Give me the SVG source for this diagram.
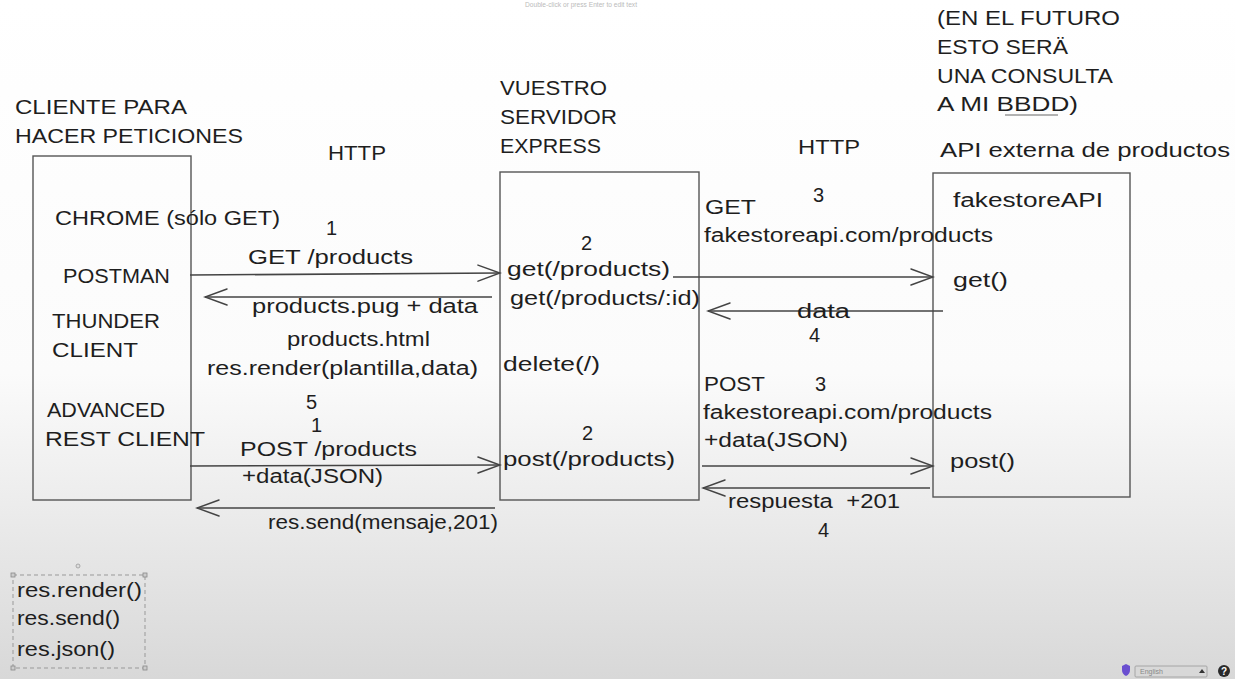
<svg xmlns="http://www.w3.org/2000/svg" width="1235" height="679" viewBox="0 0 1235 679">
<defs>
<linearGradient id="bg" x1="0" y1="0" x2="0" y2="1">
<stop offset="0" stop-color="#ffffff"/>
<stop offset="0.55" stop-color="#fbfbfb"/>
<stop offset="1" stop-color="#d8d8d8"/>
</linearGradient>
<marker id="arr" viewBox="-24 -10 26 20" refX="0" refY="0" markerWidth="26" markerHeight="20" markerUnits="userSpaceOnUse" orient="auto">
<path d="M-22,-8 L0,0 L-22,8" fill="none" stroke="#444" stroke-width="1.5" stroke-linecap="round"/>
</marker>
<style>
.t{font-family:"Liberation Sans",Arial,sans-serif;font-size:20px;fill:#1e1e1e}
.box{fill:none;stroke:#555;stroke-width:1.4}
.con{fill:none;stroke:#444;stroke-width:1.6;marker-end:url(#arr)}
.ui{font-family:"Liberation Sans",Arial,sans-serif}
</style>
</defs>
<rect x="0" y="0" width="1235" height="679" fill="url(#bg)"/>
<text class="ui" x="525" y="7" font-size="7" fill="#bbb" textLength="112" lengthAdjust="spacingAndGlyphs">Double-click or press Enter to edit text</text>

<g id="client">
<text class="t" x="15" y="114" textLength="172" lengthAdjust="spacingAndGlyphs">CLIENTE PARA</text>
<text class="t" x="15" y="143" textLength="228" lengthAdjust="spacingAndGlyphs">HACER PETICIONES</text>
<rect class="box" x="33" y="156" width="158" height="344"/>
<text class="t" x="55" y="225" textLength="225" lengthAdjust="spacingAndGlyphs">CHROME (sólo GET)</text>
<text class="t" x="63" y="283" textLength="107" lengthAdjust="spacingAndGlyphs">POSTMAN</text>
<text class="t" x="52" y="328" textLength="108" lengthAdjust="spacingAndGlyphs">THUNDER</text>
<text class="t" x="52" y="357" textLength="86" lengthAdjust="spacingAndGlyphs">CLIENT</text>
<text class="t" x="47" y="417" textLength="118" lengthAdjust="spacingAndGlyphs">ADVANCED</text>
<text class="t" x="45" y="446" textLength="160" lengthAdjust="spacingAndGlyphs">REST CLIENT</text>
</g>

<g id="server">
<text class="t" x="500" y="95" textLength="107" lengthAdjust="spacingAndGlyphs">VUESTRO</text>
<text class="t" x="500" y="124" textLength="117" lengthAdjust="spacingAndGlyphs">SERVIDOR</text>
<text class="t" x="500" y="153" textLength="101" lengthAdjust="spacingAndGlyphs">EXPRESS</text>
<rect class="box" x="500" y="172" width="199" height="328"/>
<text class="t" x="581" y="250">2</text>
<text class="t" x="507" y="276" textLength="163" lengthAdjust="spacingAndGlyphs">get(/products)</text>
<text class="t" x="510" y="305" textLength="190" lengthAdjust="spacingAndGlyphs">get(/products/:id)</text>
<text class="t" x="503" y="371" textLength="97" lengthAdjust="spacingAndGlyphs">delete(/)</text>
<text class="t" x="582" y="440">2</text>
<text class="t" x="503" y="466" textLength="172" lengthAdjust="spacingAndGlyphs">post(/products)</text>
</g>

<g id="api">
<text class="t" x="937" y="25" textLength="183" lengthAdjust="spacingAndGlyphs">(EN EL FUTURO</text>
<text class="t" x="937" y="54" textLength="131" lengthAdjust="spacingAndGlyphs">ESTO SERÄ</text>
<text class="t" x="937" y="83" textLength="176" lengthAdjust="spacingAndGlyphs">UNA CONSULTA</text>
<text class="t" x="937" y="111" textLength="141" lengthAdjust="spacingAndGlyphs">A MI BBDD)</text>
<line x1="1005" y1="115" x2="1058" y2="115" stroke="#666" stroke-width="1"/>
<text class="t" x="940" y="157" textLength="290" lengthAdjust="spacingAndGlyphs">API externa de productos</text>
<rect class="box" x="933" y="173" width="197" height="324"/>
<text class="t" x="953" y="207" textLength="150" lengthAdjust="spacingAndGlyphs">fakestoreAPI</text>
<text class="t" x="953" y="287" textLength="55" lengthAdjust="spacingAndGlyphs">get()</text>
<text class="t" x="950" y="468" textLength="65" lengthAdjust="spacingAndGlyphs">post()</text>
</g>

<g id="connectors">
<line class="con" x1="190" y1="275" x2="500" y2="273"/>
<line class="con" x1="492" y1="297" x2="205" y2="297"/>
<line class="con" x1="190" y1="466" x2="500" y2="465"/>
<line class="con" x1="495" y1="508" x2="197" y2="508"/>
<line class="con" x1="673" y1="277" x2="933" y2="277"/>
<line class="con" x1="943" y1="311" x2="708" y2="311"/>
<line class="con" x1="702" y1="466" x2="933" y2="466"/>
<line class="con" x1="930" y1="488" x2="703" y2="488"/>
</g>

<g id="labels-left">
<text class="t" x="328" y="160" textLength="58" lengthAdjust="spacingAndGlyphs">HTTP</text>
<text class="t" x="326" y="235">1</text>
<text class="t" x="248" y="264" textLength="165" lengthAdjust="spacingAndGlyphs">GET /products</text>
<text class="t" x="252" y="313" textLength="226" lengthAdjust="spacingAndGlyphs">products.pug + data</text>
<text class="t" x="287" y="346" textLength="143" lengthAdjust="spacingAndGlyphs">products.html</text>
<text class="t" x="207" y="375" textLength="271" lengthAdjust="spacingAndGlyphs">res.render(plantilla,data)</text>
<text class="t" x="306" y="409">5</text>
<text class="t" x="311" y="432">1</text>
<text class="t" x="240" y="456" textLength="177" lengthAdjust="spacingAndGlyphs">POST /products</text>
<text class="t" x="242" y="483" textLength="141" lengthAdjust="spacingAndGlyphs">+data(JSON)</text>
<text class="t" x="268" y="529" textLength="230" lengthAdjust="spacingAndGlyphs">res.send(mensaje,201)</text>
</g>

<g id="labels-right">
<text class="t" x="798" y="154" textLength="62" lengthAdjust="spacingAndGlyphs">HTTP</text>
<text class="t" x="813" y="202">3</text>
<text class="t" x="705" y="214" textLength="51" lengthAdjust="spacingAndGlyphs">GET</text>
<text class="t" x="704" y="242" textLength="289" lengthAdjust="spacingAndGlyphs">fakestoreapi.com/products</text>
<text class="t" x="797" y="318" textLength="53" lengthAdjust="spacingAndGlyphs">data</text>
<text class="t" x="809" y="342">4</text>
<text class="t" x="704" y="391" textLength="61" lengthAdjust="spacingAndGlyphs">POST</text>
<text class="t" x="815" y="391">3</text>
<text class="t" x="703" y="419" textLength="289" lengthAdjust="spacingAndGlyphs">fakestoreapi.com/products</text>
<text class="t" x="704" y="447" textLength="144" lengthAdjust="spacingAndGlyphs">+data(JSON)</text>
<text class="t" x="728" y="508" textLength="172" lengthAdjust="spacingAndGlyphs" xml:space="preserve">respuesta  +201</text>
<text class="t" x="818" y="537">4</text>
</g>

<g id="methods">
<rect x="13" y="575" width="132" height="93" fill="none" stroke="#999" stroke-width="1" stroke-dasharray="4 3"/>
<rect x="11" y="573" width="4" height="4" fill="#ccc" stroke="#888" stroke-width="0.8"/>
<rect x="143" y="573" width="4" height="4" fill="#ccc" stroke="#888" stroke-width="0.8"/>
<rect x="11" y="666" width="4" height="4" fill="#ccc" stroke="#888" stroke-width="0.8"/>
<rect x="143" y="666" width="4" height="4" fill="#ccc" stroke="#888" stroke-width="0.8"/>
<circle cx="78" cy="566" r="2" fill="#ddd" stroke="#999" stroke-width="0.8"/>
<text class="t" x="17" y="597" textLength="125" lengthAdjust="spacingAndGlyphs">res.render()</text>
<text class="t" x="17" y="625" textLength="103" lengthAdjust="spacingAndGlyphs">res.send()</text>
<text class="t" x="17" y="656" textLength="98" lengthAdjust="spacingAndGlyphs">res.json()</text>
</g>

<g id="ui-bar">
<path d="M1122,666 L1126,664 L1130,666 L1130,670 Q1130,674 1126,676 Q1122,674 1122,670 Z" fill="#6a4fd0"/>
<rect x="1135" y="666" width="72" height="11" rx="1" fill="#d8d8d8" stroke="#999" stroke-width="0.8"/>
<text class="ui" x="1140" y="674" font-size="7" fill="#888">English</text>
<path d="M1199,673 L1202,669 L1205,673 Z" fill="#333"/>
<circle cx="1224" cy="671" r="6" fill="#2a2a2a"/>
<text class="ui" x="1224" y="675" font-size="10" font-weight="bold" fill="#fff" text-anchor="middle">?</text>
</g>
</svg>
